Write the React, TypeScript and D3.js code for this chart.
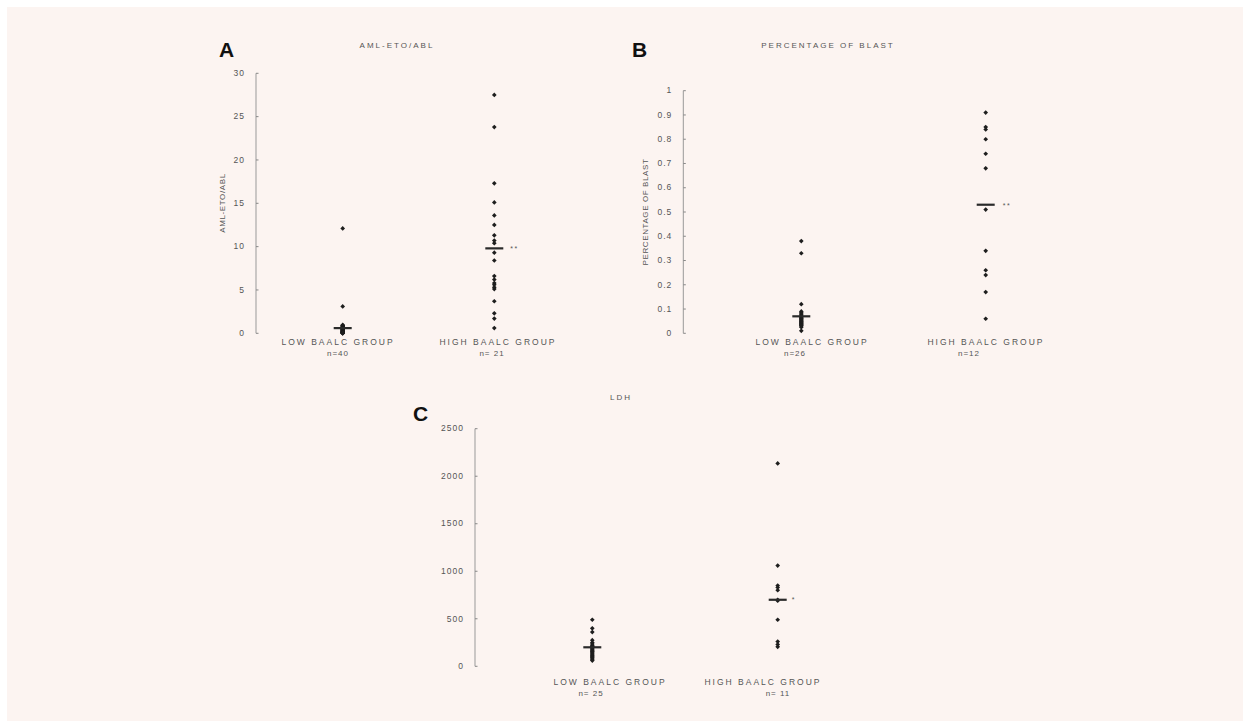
import React from 'react';
import * as d3 from 'd3';

// ---- data ----
const groups = ['LOW BAALC GROUP', 'HIGH BAALC GROUP'];

const amlLow = [
  12.1, 3.1, 0.97, 0.91, 0.88, 0.83, 0.79, 0.74, 0.7, 0.66, 0.63, 0.61, 0.57, 0.55, 0.52, 0.49,
  0.47, 0.44, 0.41, 0.38, 0.36, 0.33, 0.31, 0.27, 0.24, 0.22, 0.19, 0.17, 0.14, 0.12, 0.11, 0.09,
  0.07, 0.06, 0.05, 0.04, 0.03, 0.02, 0.02, 0.01,
];
const amlHigh = [
  27.5, 23.8, 17.3, 15.1, 13.6, 12.5, 11.3, 10.7, 10.4, 9.3, 8.4, 6.6, 6.2, 5.8, 5.6, 5.3, 5.1,
  3.7, 2.3, 1.7, 0.6,
];
const amlMedians = [0.6, 9.8];
const amlTicks = [0, 5, 10, 15, 20, 25, 30];

const blastLow = [
  0.38, 0.33, 0.12, 0.09, 0.085, 0.08, 0.075, 0.07, 0.068, 0.065, 0.062, 0.06, 0.058, 0.055,
  0.052, 0.05, 0.048, 0.045, 0.042, 0.04, 0.037, 0.035, 0.032, 0.03, 0.025, 0.01,
];
const blastHigh = [0.91, 0.85, 0.84, 0.8, 0.74, 0.68, 0.51, 0.34, 0.26, 0.24, 0.17, 0.06];
const blastMedians = [0.07, 0.53];
const blastTicks = [0, 0.1, 0.2, 0.3, 0.4, 0.5, 0.6, 0.7, 0.8, 0.9, 1];

const ldhLow = [
  490, 400, 360, 275, 250, 235, 220, 210, 205, 200, 195, 185, 175, 165, 155, 150, 140, 130, 120,
  110, 100, 95, 85, 70, 60,
];
const ldhHigh = [2135, 1060, 850, 830, 800, 700, 690, 490, 260, 230, 205];
const ldhMedians = [200, 700];
const ldhTicks = [0, 500, 1000, 1500, 2000, 2500];

const FONT = "'Liberation Sans', Arial, Helvetica, sans-serif";
const INK = '#1e1e1e';
const SOFT = '#555';

interface PanelProps {
  letter: string;
  title: string;
  yTitle?: string;
  low: number[];
  high: number[];
  medians: number[];
  ticks: number[];
  counts: string[];
  stars: string;
  layout: {
    axisX: number; yTop: number; yBottom: number; xLow: number; xHigh: number;
    labelX: number[]; nX: number[]; labelY: number;
    titleX: number; titleY: number; letterX: number; letterY: number;
    yTitleX?: number; yTitleY?: number; starDx: number; starDy: number;
  };
}

const marker = d3.symbol().type(d3.symbolSquare).size(11)() || '';

const Panel: React.FC<PanelProps> = ({ letter, title, yTitle, low, high, medians, ticks, counts, stars, layout }) => {
  const y = d3.scaleLinear()
    .domain([ticks[0], ticks[ticks.length - 1]])
    .range([layout.yBottom, layout.yTop]);
  const x = d3.scalePoint<string>().domain(groups).range([layout.xLow, layout.xHigh]);
  const series = [low, high];

  return (
    <g>
      <text x={layout.letterX} y={layout.letterY} fontFamily={FONT} fontWeight="bold" fontSize={21} fill="#111">
        {letter}
      </text>
      <text x={layout.titleX} y={layout.titleY} textAnchor="middle" fontFamily={FONT} fontSize={8}
        letterSpacing={2} fill={SOFT}>
        {title}
      </text>
      {yTitle && (
        <text transform={`translate(${layout.yTitleX},${layout.yTitleY}) rotate(-90)`} textAnchor="middle"
          fontFamily={FONT} fontSize={8} letterSpacing={0.6} fill={SOFT}>
          {yTitle}
        </text>
      )}

      {/* axis */}
      <line x1={layout.axisX} x2={layout.axisX} y1={y.range()[1]} y2={y.range()[0]} stroke="#999" strokeWidth={1} />
      {ticks.map((t) => (
        <g key={t} transform={`translate(0,${y(t)})`}>
          <line x1={layout.axisX} x2={layout.axisX + 2.5} stroke="#888" />
          <text x={layout.axisX - 11} dy="0.32em" textAnchor="end" fontFamily={FONT} fontSize={8.5}
            letterSpacing={1} fill={SOFT}>
            {d3.format('~g')(t)}
          </text>
        </g>
      ))}

      {/* points */}
      {series.map((vals, gi) => (
        <g key={gi} fill={INK}>
          {vals.map((v, i) => (
            <path key={i} d={marker} transform={`translate(${x(groups[gi])},${y(v)}) rotate(45)`} />
          ))}
          <line x1={(x(groups[gi]) || 0) - 9} x2={(x(groups[gi]) || 0) + 9} y1={y(medians[gi])} y2={y(medians[gi])}
            stroke="#2a2a2a" strokeWidth={2.2} />
        </g>
      ))}
      <text x={(x(groups[1]) || 0) + layout.starDx} y={y(medians[1]) + layout.starDy} fontFamily={FONT}
        fontSize={7} letterSpacing={1.5} fill="#555">
        {stars}
      </text>

      {/* category labels */}
      {groups.map((g, gi) => (
        <g key={g}>
          <text x={layout.labelX[gi]} y={layout.labelY} textAnchor="middle" fontFamily={FONT} fontSize={8.5}
            letterSpacing={2} fill={SOFT}>
            {g}
          </text>
          <text x={layout.nX[gi]} y={layout.labelY + 11} textAnchor="middle" fontFamily={FONT} fontSize={8}
            letterSpacing={1} fill={SOFT}>
            {counts[gi]}
          </text>
        </g>
      ))}
    </g>
  );
};

export default function App() {
  return (
    <svg width={1248} height={725} style={{ position: 'absolute', left: 0, top: 0 }}>
      <rect x={0} y={0} width={1248} height={725} fill="#fff" />
      <rect x={7} y={7} width={1236} height={714} fill="#fcf4f1" />
      <Panel
        letter="A"
        title="AML-ETO/ABL"
        yTitle="AML-ETO/ABL"
        low={amlLow}
        high={amlHigh}
        medians={amlMedians}
        ticks={amlTicks}
        counts={['n=40', 'n= 21']}
        stars="**"
        layout={{
          axisX: 256, yTop: 73.3, yBottom: 333.3, xLow: 342.7, xHigh: 494.3,
          labelX: [338, 498], nX: [338, 492], labelY: 345,
          titleX: 397, titleY: 48, letterX: 219, letterY: 57,
          yTitleX: 225, yTitleY: 203, starDx: 16, starDy: 3,
        }}
      />
      <Panel
        letter="B"
        title="PERCENTAGE OF BLAST"
        yTitle="PERCENTAGE OF BLAST"
        low={blastLow}
        high={blastHigh}
        medians={blastMedians}
        ticks={blastTicks}
        counts={['n=26', 'n=12']}
        stars="**"
        layout={{
          axisX: 683.3, yTop: 90.7, yBottom: 333.3, xLow: 801.3, xHigh: 985.7,
          labelX: [812, 986], nX: [795, 969], labelY: 345,
          titleX: 828, titleY: 48, letterX: 632, letterY: 57,
          yTitleX: 648, yTitleY: 212, starDx: 17, starDy: 3,
        }}
      />
      <Panel
        letter="C"
        title="LDH"
        low={ldhLow}
        high={ldhHigh}
        medians={ldhMedians}
        ticks={ldhTicks}
        counts={['n= 25', 'n= 11']}
        stars="*"
        layout={{
          axisX: 475, yTop: 428.7, yBottom: 666.3, xLow: 592.3, xHigh: 777.7,
          labelX: [610, 763], nX: [591, 778], labelY: 685,
          titleX: 621, titleY: 400, letterX: 413, letterY: 421,
          starDx: 14, starDy: 2,
        }}
      />
    </svg>
  );
}
